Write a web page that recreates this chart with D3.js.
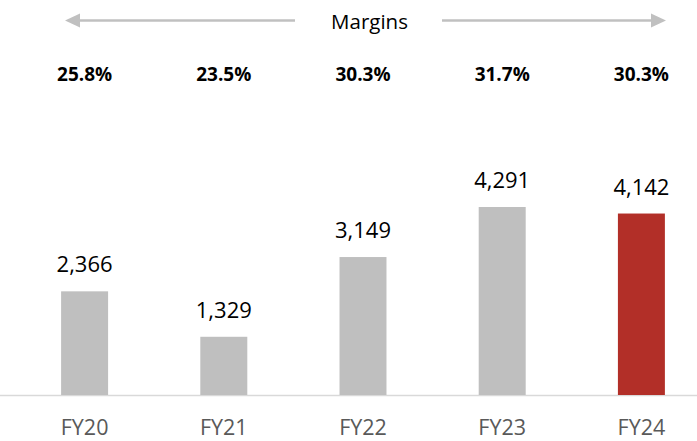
<!DOCTYPE html>
<html>
<head>
<meta charset="utf-8">
<script src="https://cdn.jsdelivr.net/npm/d3@7"></script>
<style>
  body { margin: 0; background: #fff; }
  text { font-family: "Open Sans", sans-serif; }
</style>
</head>
<body>
<script>
// data
var years = ["FY20", "FY21", "FY22", "FY23", "FY24"];
var values = [2366, 1329, 3149, 4291, 4142];
var margins = ["25.8%", "23.5%", "30.3%", "31.7%", "30.3%"];
var barColors = ["#bfbfbf", "#bfbfbf", "#bfbfbf", "#bfbfbf", "#b22f28"];

var width = 697, height = 441;
var baseY = 395;

var svg = d3.select("body").append("svg")
  .attr("width", width)
  .attr("height", height);

var x = d3.scaleBand()
  .domain(years)
  .range([15, 711])
  .paddingInner(0.6625)
  .paddingOuter(0.33125);

var y = d3.scaleLinear()
  .domain([0, d3.max(values)])
  .range([baseY, 207]);

// axis line
svg.append("line")
  .attr("x1", 0).attr("x2", width)
  .attr("y1", baseY + 0.5).attr("y2", baseY + 0.5)
  .attr("stroke", "#d9d9d9")
  .attr("stroke-width", 1.5);

// bars
svg.append("g").selectAll("rect")
  .data(values)
  .enter()
  .append("rect")
  .attr("x", (d, i) => x(years[i]))
  .attr("y", d => y(d))
  .attr("width", x.bandwidth())
  .attr("height", d => baseY - y(d))
  .attr("fill", (d, i) => barColors[i]);

// value labels
svg.append("g").selectAll("text")
  .data(values)
  .enter()
  .append("text")
  .attr("x", (d, i) => x(years[i]) + x.bandwidth() / 2)
  .attr("y", d => y(d) - 19)
  .attr("text-anchor", "middle")
  .attr("font-size", 22)
  .attr("fill", "#000")
  .text(d => d3.format(",")(d));

// category labels
svg.append("g").selectAll("text")
  .data(years)
  .enter()
  .append("text")
  .attr("x", d => x(d) + x.bandwidth() / 2)
  .attr("y", 435)
  .attr("text-anchor", "middle")
  .attr("font-size", 21.5)
  .attr("fill", "#595959")
  .text(d => d);

// margins row
svg.append("g").selectAll("text")
  .data(margins)
  .enter()
  .append("text")
  .attr("x", (d, i) => x(years[i]) + x.bandwidth() / 2)
  .attr("y", 81)
  .attr("text-anchor", "middle")
  .attr("font-size", 19)
  .attr("font-weight", "bold")
  .attr("fill", "#000")
  .text(d => d);

// Margins header with arrows
var arrowY = 20.5;
var arrowCol = "#c0c0c0";
svg.append("text")
  .attr("x", 369.5)
  .attr("y", 29)
  .attr("text-anchor", "middle")
  .attr("font-size", 20.5)
  .attr("fill", "#000")
  .text("Margins");

svg.append("line")
  .attr("x1", 78).attr("x2", 295)
  .attr("y1", arrowY).attr("y2", arrowY)
  .attr("stroke", arrowCol).attr("stroke-width", 2.5);
svg.append("path")
  .attr("d", "M65," + arrowY + "L80," + (arrowY - 7) + "L80," + (arrowY + 7) + "Z")
  .attr("fill", arrowCol);

svg.append("line")
  .attr("x1", 442).attr("x2", 653)
  .attr("y1", arrowY).attr("y2", arrowY)
  .attr("stroke", arrowCol).attr("stroke-width", 2.5);
svg.append("path")
  .attr("d", "M666," + arrowY + "L651," + (arrowY - 7) + "L651," + (arrowY + 7) + "Z")
  .attr("fill", arrowCol);
</script>
</body>
</html>
